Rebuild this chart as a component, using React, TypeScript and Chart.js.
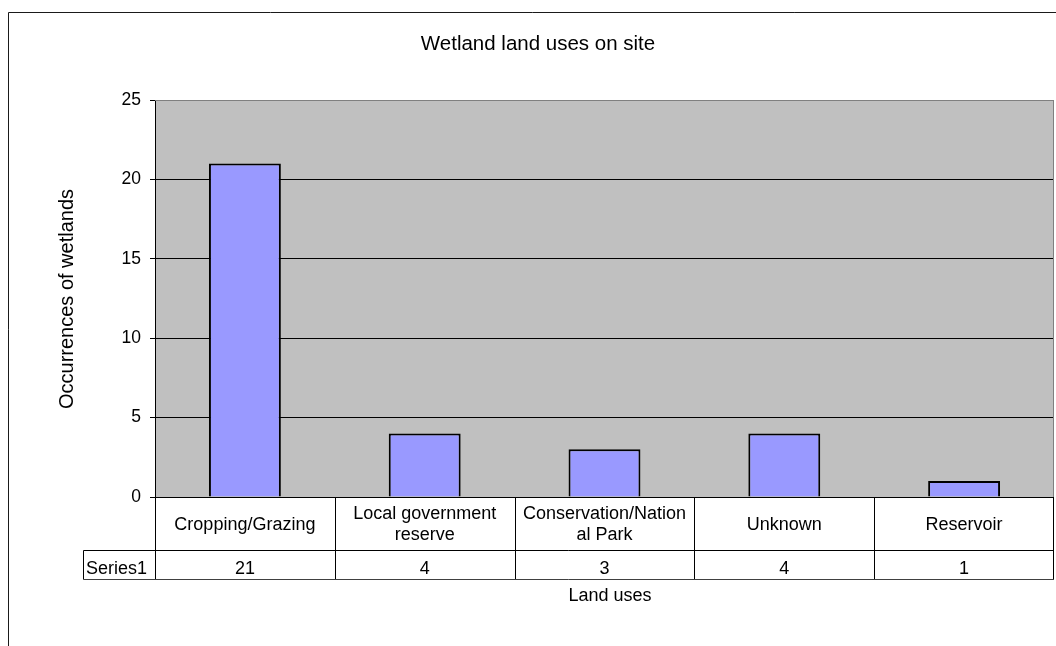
import React, { useEffect, useRef } from "react";
import { Chart, registerables } from "chart.js";

Chart.register(...registerables);

// Chart content
const chartTitle = "Wetland land uses on site";
const xTitle = "Land uses";
const yTitle = "Occurrences of wetlands";
const seriesName = "Series1";
// category labels, already split into the lines shown in the data table
const categories: string[][] = [
  ["Cropping/Grazing"],
  ["Local government", "reserve"],
  ["Conservation/Nation", "al Park"],
  ["Unknown"],
  ["Reservoir"],
];
const occurrences = [21, 4, 3, 4, 1];
const yMin = 0;
const yMax = 25;
const yStep = 5;

const FONT = '"Liberation Sans", Arial, Helvetica, sans-serif';
const W = 1056;
const H = 646;

// Excel-style frame: grey plot area, plot border, data table and titles
const excelFrame = {
  id: "excelFrame",
  beforeDraw(chart: any) {
    const { ctx, chartArea: a } = chart;
    ctx.save();
    ctx.fillStyle = "#ffffff";
    ctx.fillRect(0, 0, chart.width, chart.height);
    ctx.fillStyle = "#c0c0c0";
    ctx.fillRect(a.left, a.top, a.right - a.left, a.bottom - a.top);
    ctx.restore();
  },
  afterDraw(chart: any) {
    const { ctx, chartArea: a } = chart;
    const xs = chart.scales.x;
    const n = categories.length;
    const colW = (a.right - a.left) / n;
    const row1Bottom = 550.5;
    const row2Bottom = 579.5;
    const nameLeft = 83.5;

    ctx.save();
    ctx.lineWidth = 1;

    // outer chart frame (continues beyond the page)
    ctx.strokeStyle = "#1a1a1a";
    ctx.beginPath();
    ctx.moveTo(8.5, H);
    ctx.lineTo(8.5, 12.5);
    ctx.lineTo(W, 12.5);
    ctx.stroke();

    // plot-area border, top and right
    ctx.strokeStyle = "#808080";
    ctx.beginPath();
    ctx.moveTo(a.left, a.top + 0.5);
    ctx.lineTo(a.right - 0.5, a.top + 0.5);
    ctx.lineTo(a.right - 0.5, a.bottom);
    ctx.stroke();

    // data table grid
    ctx.strokeStyle = "#000000";
    ctx.beginPath();
    ctx.moveTo(a.left, a.bottom + 0.5);
    ctx.lineTo(a.right, a.bottom + 0.5);
    ctx.moveTo(nameLeft, row1Bottom);
    ctx.lineTo(a.right, row1Bottom);
    ctx.moveTo(nameLeft, row1Bottom);
    ctx.lineTo(nameLeft, row2Bottom);
    for (let i = 0; i <= n; i++) {
      const x = Math.round(xs.getPixelForValue(i) - colW / 2) + 0.5;
      ctx.moveTo(Math.min(x, a.right - 0.5), a.bottom);
      ctx.lineTo(Math.min(x, a.right - 0.5), row2Bottom);
    }
    ctx.stroke();
    ctx.strokeStyle = "#404040";
    ctx.beginPath();
    ctx.moveTo(nameLeft, row2Bottom);
    ctx.lineTo(a.right, row2Bottom);
    ctx.stroke();

    // table text
    ctx.fillStyle = "#000000";
    ctx.font = `18px ${FONT}`;
    ctx.textAlign = "center";
    ctx.textBaseline = "middle";
    const rowMid = (a.bottom + row1Bottom) / 2 + 1;
    const lineH = 21;
    categories.forEach((lines, i) => {
      const cx = xs.getPixelForValue(i);
      const y0 = rowMid - ((lines.length - 1) * lineH) / 2;
      lines.forEach((t, j) => ctx.fillText(t, cx, y0 + j * lineH));
    });
    ctx.textBaseline = "alphabetic";
    occurrences.forEach((v, i) => {
      ctx.fillText(String(v), xs.getPixelForValue(i), 574);
    });
    ctx.textAlign = "left";
    ctx.fillText(seriesName, 86, 574);

    // titles
    ctx.textAlign = "center";
    ctx.font = `20.5px ${FONT}`;
    ctx.fillText(chartTitle, 538, 50);
    ctx.font = `18px ${FONT}`;
    ctx.fillText(xTitle, 610, 601);
    ctx.save();
    ctx.translate(73, 299);
    ctx.rotate(-Math.PI / 2);
    ctx.font = `20px ${FONT}`;
    ctx.fillText(yTitle, 0, 0);
    ctx.restore();

    ctx.restore();
  },
};

export default function App() {
  const canvasRef = useRef<HTMLCanvasElement | null>(null);

  useEffect(() => {
    const canvas = canvasRef.current;
    if (!canvas) return;
    const chart = new Chart(canvas, {
      type: "bar",
      data: {
        labels: categories.map((c) => c.join(" ")),
        datasets: [
          {
            label: seriesName,
            data: occurrences,
            backgroundColor: "#9999ff",
            borderColor: "#000000",
            borderWidth: 2,
            barPercentage: 0.4,
            categoryPercentage: 1,
          },
        ],
      },
      options: {
        responsive: false,
        animation: false,
        devicePixelRatio: 1,
        layout: { padding: { top: 100, right: 2, bottom: 149, left: 0 } },
        plugins: {
          legend: { display: false },
          title: { display: false },
          tooltip: { enabled: false },
        },
        scales: {
          x: { display: false },
          y: {
            min: yMin,
            max: yMax,
            afterFit(scale: any) {
              scale.width = 155;
            },
            ticks: {
              stepSize: yStep,
              color: "#000000",
              padding: 9,
              font: { family: FONT, size: 17.5 },
            },
            grid: {
              color: (c: any) => (c.tick && c.tick.value === yMax ? "#808080" : "#000000"),
              tickColor: "#000000",
              tickLength: 5,
              lineWidth: 1,
            },
            border: { display: true, color: "#000000", width: 1 },
          },
        },
      },
      plugins: [excelFrame],
    });
    return () => chart.destroy();
  }, []);

  return (
    <div style={{ position: "absolute", left: 0, top: 0, width: W, height: H, background: "#fff" }}>
      <canvas ref={canvasRef} width={W} height={H} style={{ display: "block" }} />
    </div>
  );
}
